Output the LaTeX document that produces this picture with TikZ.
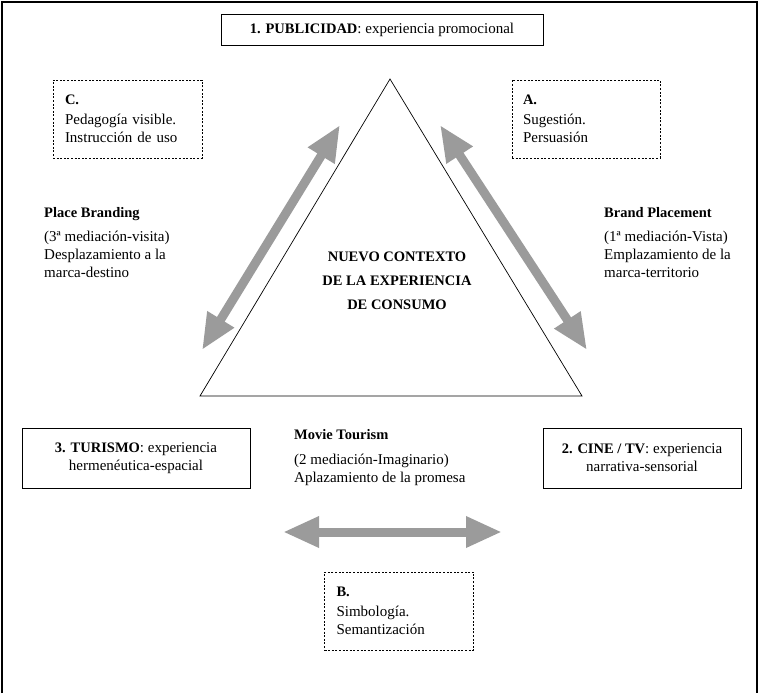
\documentclass[tikz,border=0pt]{standalone}
\usepackage{fontspec}
\setmainfont{Liberation Serif}
\usetikzlibrary{arrows.meta}
\newcommand\dfont{\fontsize{15}{18}\selectfont}
\newcommand\btit[1]{{\fontsize{14.5}{18}\selectfont\bfseries #1}}
\definecolor{arrowgray}{RGB}{155,155,155}
\begin{document}
\begin{tikzpicture}[x=1pt,y=-1pt,
  frameline/.style={line width=1.2pt},
  solidbox/.style={draw, line width=0.9pt, align=center, inner sep=0pt, font=\dfont},
  dashbox/.style={draw, line width=0.8pt, dash pattern=on 2pt off 1.6pt, align=left,
    inner xsep=12pt, inner ysep=0pt, minimum height=78pt, text width=125pt, font=\dfont},
  sidetext/.style={anchor=north west, align=left, inner sep=0pt, font=\dfont},
  tri/.style={line width=0.7pt},
  bigarrow/.style={draw=arrowgray, line width=9pt,
    {Triangle[length=36pt,width=29pt]}-{Triangle[length=36pt,width=29pt]}},
]
\useasboundingbox (0,0) rectangle (759,693);
% outer frame
\draw[frameline] (2,693) -- (2,2) -- (757,2) -- (757,693);

% triangle
\coordinate (apex) at (390,79);
\coordinate (bl) at (200,396);
\coordinate (br) at (582,396);
\draw[tri] (apex) -- (bl) -- (br) -- cycle;

% main boxes
\node[solidbox, minimum width=322pt, minimum height=31pt] (pub) at (382,30)
  {\btit{1. PUBLICIDAD}: experiencia promocional};
\node[solidbox, minimum width=228pt, minimum height=60pt] (tur) at (136,458)
  {\btit{3. TURISMO}: experiencia\\hermenéutica-espacial};
\node[solidbox, minimum width=198pt, minimum height=60pt] (cine) at (642,458)
  {\btit{2. CINE / TV}: experiencia\\narrativa-sensorial};

% dashed boxes
\node[dashbox, text width=125pt] (C) at (127.5,119)
  {\btit{C.}\\[2pt]Pedagogía visible.\\Instrucción de uso};
\node[dashbox, text width=126pt, inner xsep=11pt] (A) at (586,119)
  {\btit{A.}\\[2pt]Sugestión.\\Persuasión};
\node[dashbox] (B) at (399,611)
  {\btit{B.}\\[2pt]Simbología.\\Semantización};

% centre text
\node[align=center, inner sep=0pt, font=\fontsize{14.5}{24}\selectfont\bfseries] (ctx) at (397,281)
  {NUEVO CONTEXTO\\DE LA EXPERIENCIA\\DE CONSUMO};

% side texts
\node[sidetext] (pb) at (44,207)
  {\btit{Place Branding}\\[6pt](3ª mediación-visita)\\Desplazamiento a la\\marca-destino};
\node[sidetext] (bp) at (604,207)
  {\btit{Brand Placement}\\[6pt](1ª mediación-Vista)\\Emplazamiento de la\\marca-territorio};
\node[sidetext] (mt) at (294,429)
  {\btit{Movie Tourism}\\[7pt](2 mediación-Imaginario)\\Aplazamiento de la promesa};

% arrows
\coordinate (la1) at (340,125);
\coordinate (la2) at (202,350);
\coordinate (ra1) at (440,125);
\coordinate (ra2) at (587,350);
\coordinate (ba1) at (283,532);
\coordinate (ba2) at (502,532);
\draw[bigarrow] (la1) -- (la2);
\draw[bigarrow] (ra1) -- (ra2);
\draw[bigarrow] (ba1) -- (ba2);
\end{tikzpicture}
\end{document}
